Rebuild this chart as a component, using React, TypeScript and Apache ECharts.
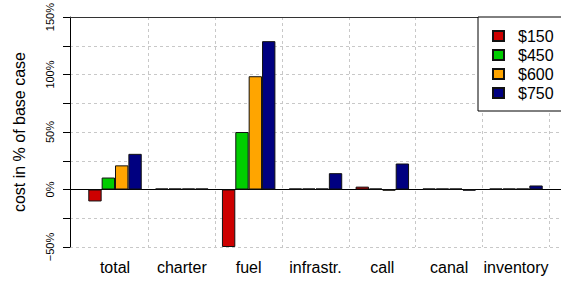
import React, { useEffect, useRef } from "react";
import * as echarts from "echarts";

const categories = ["total", "charter", "fuel", "infrastr.", "call", "canal", "inventory"];
const seriesNames = ["$150", "$450", "$600", "$750"];
const seriesColors = ["#CD0000", "#00CD00", "#FFA500", "#000080"];
const values150 = [-10.4, 0, -50, 0, 2.5, 0, 0];
const values450 = [10.4, 0, 50, 0, 0, 0, 0];
const values600 = [21, 0.6, 98.5, 0.5, -1, 0, 0.5];
const values750 = [31, 0.6, 129, 14.2, 22.6, -1, 3.5];
const allValues = [values150, values450, values600, values750];
const yTicks = { min: -50, max: 150, step: 25, labelStep: 50 };

const FONT = "Liberation Sans, Arial, Helvetica, sans-serif";
const GRID_DASH = { color: "#c8c8c8", width: 1, type: [3, 3] as number[] };

export default function App() {
  const ref = useRef<HTMLDivElement>(null);
  useEffect(() => {
    if (!ref.current) return;
    const chart = echarts.init(ref.current, null, { renderer: "svg" });
    const top = 17;
    const height = 230;
    chart.setOption({
      animation: false,
      backgroundColor: "#fff",
      textStyle: { fontFamily: FONT },
      grid: [
        { left: 70, top, height, width: 520 },
        { left: 81.6, top, height, width: 467.8 },
      ],
      legend: {
        data: seriesNames,
        orient: "vertical",
        left: 478,
        top: 17,
        padding: [11, 30, 10, 14],
        borderColor: "#000",
        borderWidth: 1,
        backgroundColor: "#fff",
        itemWidth: 11,
        itemHeight: 10,
        itemGap: 3,
        icon: "rect",
        textStyle: { fontSize: 16, color: "#000", fontFamily: FONT, padding: [0, 0, 0, 9], lineHeight: 16 },
        z: 10,
      },
      xAxis: [
        {
          gridIndex: 0, type: "value", min: 0, max: 1, position: "bottom",
          axisLine: { show: true, lineStyle: { color: "#000", width: 1 } },
          axisTick: { show: false }, axisLabel: { show: false }, splitLine: { show: false },
        },
        {
          gridIndex: 0, type: "value", min: 0, max: 1, position: "top",
          axisLine: { show: true, lineStyle: { color: "#333", width: 1 } },
          axisTick: { show: false }, axisLabel: { show: false }, splitLine: { show: false },
        },
        {
          gridIndex: 1, type: "category", data: categories, position: "bottom",
          axisLine: { show: false }, axisTick: { show: false },
          axisLabel: { interval: 0, hideOverlap: false, fontSize: 16, color: "#000", margin: 12, fontFamily: FONT },
          splitLine: { show: true, interval: 0, showMinLine: false, lineStyle: GRID_DASH },
        },
      ],
      yAxis: [
        {
          gridIndex: 0, type: "value", min: yTicks.min, max: yTicks.max, interval: yTicks.step,
          name: "cost in % of base case", nameLocation: "middle", nameRotate: 90, nameGap: 43,
          nameTextStyle: { fontSize: 16, color: "#000", fontFamily: FONT },
          axisLine: { show: true, lineStyle: { color: "#000", width: 1 } },
          axisTick: { show: true, length: 7, lineStyle: { color: "#000" } },
          axisLabel: {
            rotate: 90, fontSize: 11, color: "#000", margin: 15, fontFamily: FONT,
            formatter: (v: number) => (v % yTicks.labelStep === 0 ? (v < 0 ? "\u2212" + Math.abs(v) : String(v)) + "%" : ""),
          },
          splitLine: { show: true, lineStyle: GRID_DASH },
        },
        {
          gridIndex: 1, type: "value", min: yTicks.min, max: yTicks.max, interval: yTicks.step,
          show: false, splitLine: { show: false },
        },
      ],
      series: seriesNames.map((name, i) => ({
        name,
        type: "bar",
        xAxisIndex: 2,
        yAxisIndex: 1,
        data: allValues[i],
        barGap: "0%",
        barCategoryGap: "20%",
        barMinHeight: 1,
        itemStyle: { color: seriesColors[i], borderColor: "#111", borderWidth: 1 },
      })),
    });
    return () => chart.dispose();
  }, []);
  return <div ref={ref} style={{ width: 561, height: 281, position: "absolute", left: 0, top: 0 }} />;
}
